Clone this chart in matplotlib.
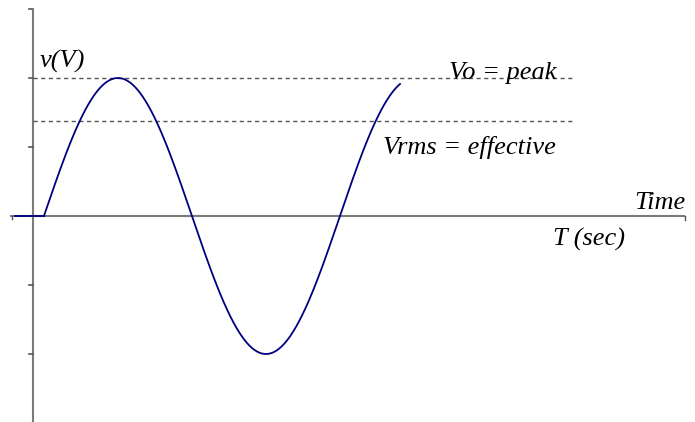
import numpy as np
import matplotlib
matplotlib.use("Agg")
import matplotlib.pyplot as plt

# Data (period = 1, amplitude = 1)
period = 1.0
amplitude = 1.0
t_start = 0.037        # sine starts here
t_end = 1.24           # sine ends here
flat_start = -0.06
rms_level = 0.69
peak_level = 1.0
yticks = [-1.0, -0.5, 0.5, 1.0, 1.5]

labels = {
    "v": "v(V)",
    "peak": "Vo = peak",
    "rms": "Vrms = effective",
    "time": "Time",
    "tsec": "T (sec)",
}

fig = plt.figure(figsize=(6.95, 4.22), dpi=100)
ax = fig.add_axes([0, 0, 1, 1])
ax.set_xlim(-33 / 296, (695 - 33) / 296)
ax.set_ylim((216 - 422) / 138, 216 / 138)
ax.axis("off")

axis_col = "#7a7a7a"
x_end = 2.203
# axes lines
ax.plot([-0.078, x_end], [0, 0], color=axis_col, lw=1.5, solid_capstyle="butt")
ax.plot([0, 0], [-1.6, 1.49], color=axis_col, lw=1.5, solid_capstyle="butt")
# ticks on y axis
for yt in yticks:
    ax.plot([-0.014, 0], [yt, yt], color="#555555", lw=1.2)
# end ticks on x axis
ax.plot([-0.071, -0.071], [0, -0.025], color="#555555", lw=1.0)
ax.plot([x_end, x_end], [0, -0.03], color="#555555", lw=1.0)

# dashed reference lines
ax.plot([0, 1.82], [peak_level, peak_level], color="#555555", lw=1.0, ls=(0, (3, 2.5)))
ax.plot([0, 1.82], [rms_level, rms_level], color="#555555", lw=1.0, ls=(0, (3, 2.5)))

# signal
t = np.linspace(t_start, t_end, 600)
v = amplitude * np.sin(2 * np.pi * (t - t_start) / period)
ax.plot([flat_start, t_start], [0, 0], color="#000080", lw=1.3)
ax.plot(t, v, color="#000080", lw=1.3)

font = dict(family="Liberation Serif", style="italic", fontsize=19, color="black")
ax.text(0.024, 1.075, labels["v"], ha="left", va="baseline", **font)
ax.text(1.405, 0.995, labels["peak"], ha="left", va="baseline", **font)
ax.text(1.182, 0.45, labels["rms"], ha="left", va="baseline", **font)
ax.text(2.206, 0.05, labels["time"], ha="right", va="baseline", **font)
ax.text(1.757, -0.215, labels["tsec"], ha="left", va="baseline", **font)

fig.savefig("out.png", dpi=100)
